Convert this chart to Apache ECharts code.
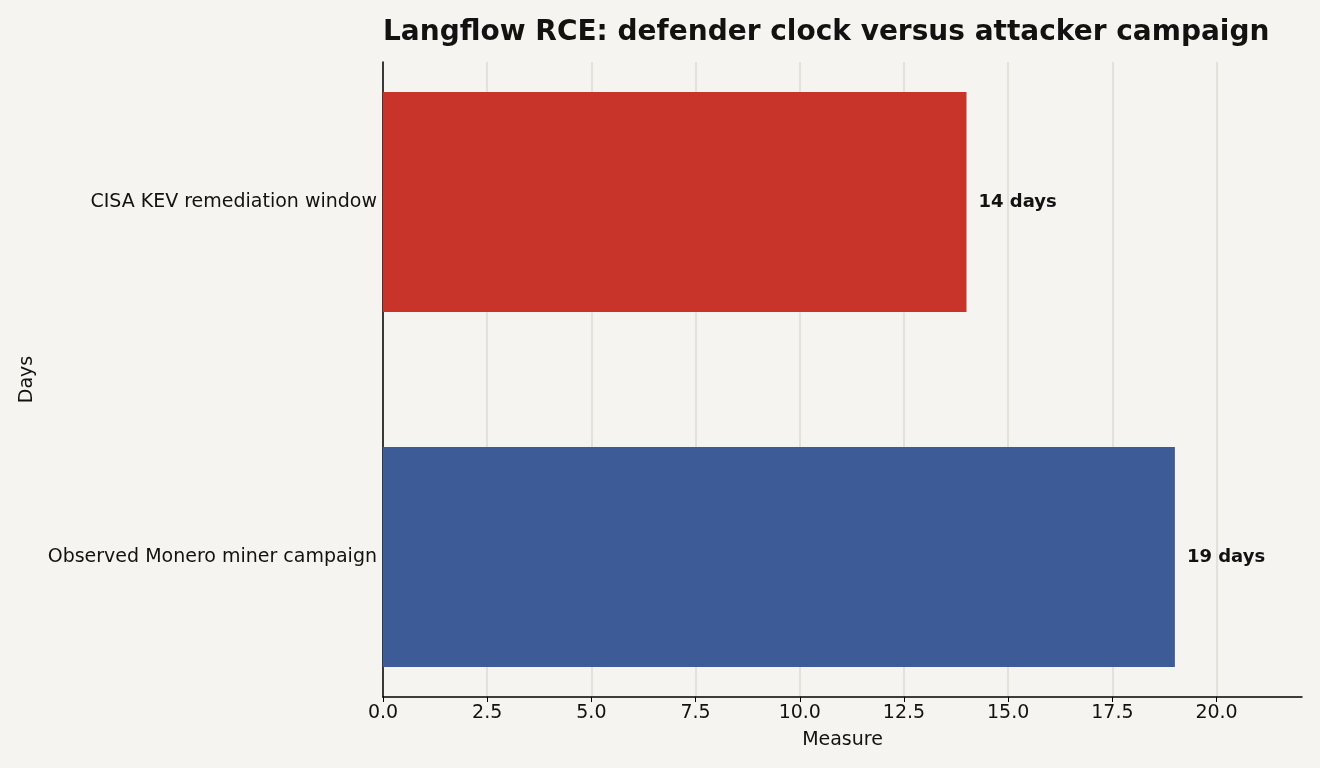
<!DOCTYPE html>
<html><head><meta charset="utf-8">
<script src="https://cdn.jsdelivr.net/npm/echarts@6/dist/echarts.min.js"></script>
<style>html,body{margin:0;padding:0;background:#F5F4F0;}#c{width:1320px;height:768px;}</style>
</head><body><div id="c"></div>
<script>
const categories = ["CISA KEV remediation window", "Observed Monero miner campaign"];
const values = [14, 19];
const colors = ["#C8342A", "#3D5B96"];
const xTicks = [0, 2.5, 5, 7.5, 10, 12.5, 15, 17.5, 20];
const xMax = 22.05;
const font = "'DejaVu Sans', Verdana, sans-serif";
const ink = "#141210";

const chart = echarts.init(document.getElementById('c'), null, {renderer: 'canvas'});
chart.setOption({
  backgroundColor: '#F5F4F0',
  animation: false,
  title: {
    text: 'Langflow RCE: defender clock versus attacker campaign',
    left: 378, top: 14,
    textStyle: {fontFamily: font, fontSize: 28, fontWeight: 'bold', color: ink}
  },
  grid: [
    {left: 383, right: 18, top: 62, bottom: 71, containLabel: false},
    {left: 383, right: 18, top: 24.5, height: 710, containLabel: false}
  ],
  xAxis: [
    {gridIndex: 0, type: 'value', min: 0, max: xMax, interval: 2.5,
     name: 'Measure', nameLocation: 'middle', nameGap: 34,
     nameTextStyle: {fontFamily: font, fontSize: 19, color: ink},
     axisLine: {show: true, lineStyle: {color: '#000000', width: 1.5}},
     axisTick: {show: true, length: 5, lineStyle: {color: '#000000'}},
     axisLabel: {fontFamily: font, fontSize: 19, color: ink, margin: 7,
       formatter: v => xTicks.indexOf(v) >= 0 ? v.toFixed(1) : '', showMaxLabel: false},
     splitLine: {show: true, showMaxLine: false, lineStyle: {color: '#DDDBD5', width: 1.5}}},
    {gridIndex: 1, type: 'value', min: 0, max: xMax, show: false}
  ],
  yAxis: [
    {gridIndex: 0, type: 'value', min: 0, max: 1,
     name: 'Days', nameLocation: 'middle', nameGap: 346, nameRotate: 90,
     nameTextStyle: {fontFamily: font, fontSize: 19, color: ink},
     axisLine: {show: true, lineStyle: {color: '#000000', width: 1.5}},
     axisTick: {show: false}, axisLabel: {show: false}, splitLine: {show: false}},
    {gridIndex: 1, type: 'category', data: categories, inverse: true,
     axisLine: {show: false}, axisTick: {show: false}, splitLine: {show: false},
     axisLabel: {fontFamily: font, fontSize: 19, color: ink, margin: 6}}
  ],
  series: [{
    type: 'bar', xAxisIndex: 1, yAxisIndex: 1,
    data: values.map((v, i) => ({value: v, itemStyle: {color: colors[i]}})),
    barWidth: '62%',
    label: {show: true, position: 'right', distance: 12,
      formatter: p => p.value + ' days',
      fontFamily: font, fontSize: 18, fontWeight: 'bold', color: ink}
  }]
});
</script></body></html>
